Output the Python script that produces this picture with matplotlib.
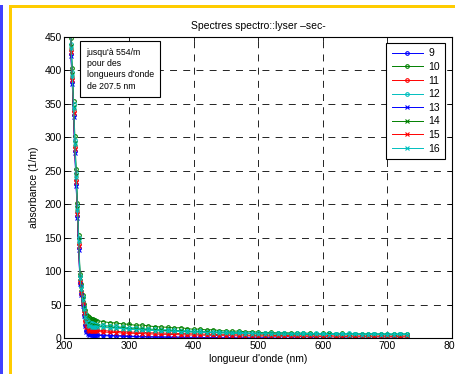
import numpy as np
import matplotlib
matplotlib.use("Agg")
import matplotlib.pyplot as plt
from matplotlib.patches import Rectangle

plt.rcParams['font.family'] = ['Liberation Sans', 'DejaVu Sans']
plt.rcParams['lines.scale_dashes'] = False

# wavelengths (nm): dense in the steep UV part, coarser in the tail
wl_head = np.arange(200, 250, 2)
wl_tail = np.arange(250, 731, 10)
wavelengths = np.concatenate([wl_head, wl_tail])

labels = ['9', '10', '11', '12', '13', '14', '15', '16']
colors = ['#0000ff', '#008000', '#ff0000', '#00bfbf',
          '#0000ff', '#008000', '#ff0000', '#00bfbf']
markers = ['o', 'o', 'o', 'o', 'x', 'x', 'x', 'x']

head_9 = [490, 512, 527, 534, 517, 424, 382, 334, 280, 230, 182, 135, 82, 66, 50, 35, 20, 11, 7, 6, 5.5, 5.5, 5, 5, 5]
head_10 = [515, 534, 548, 553, 540, 448, 404, 355, 302, 252, 202, 154, 96, 80, 64, 51, 42, 36, 33, 31, 30, 29, 28, 27, 27]
head_11 = [495, 518, 533, 540, 523, 430, 388, 340, 286, 236, 188, 141, 86, 70, 54, 40, 26, 18, 14, 13, 12.5, 12.5, 12, 12, 12]
head_12 = [505, 526, 541, 548, 532, 440, 398, 350, 296, 246, 197, 150, 93, 77, 61, 47, 36, 29, 25, 23, 22, 22, 21, 21, 20]
head_13 = [488, 510, 525, 532, 515, 421, 379, 331, 277, 227, 179, 132, 80, 64, 48, 33, 18, 9, 6, 5, 4.5, 4.5, 4, 4, 4]
head_14 = [500, 522, 538, 545, 528, 436, 394, 346, 292, 243, 194, 147, 90, 74, 58, 45, 33, 26, 22, 20, 19, 19, 18, 18, 18]
head_15 = [492, 515, 530, 537, 520, 427, 385, 337, 283, 233, 185, 138, 84, 68, 52, 38, 24, 16, 12, 11, 10.5, 10.5, 10, 10, 10]
head_16 = [498, 520, 536, 543, 526, 434, 392, 344, 290, 240, 192, 145, 89, 73, 57, 43, 31, 24, 20, 18, 17.5, 17, 17, 17, 17]

tail_9 = [5, 4.5, 4, 3.5, 3.5, 3, 2.5, 2.5, 2, 2, 2, 1.5, 1.5, 1.5, 1, 1, 1, 0.5, 1, 0.5, 0.5, 0.5, 0, 0.5, 0,
          0, 0.5, 0, 0, -0.5, 0, 0, -0.5, 0, 0, -0.5, 0, -0.5, 0, 0, -0.5, 0, -0.5, -0.5, 0, -0.5, 0, -0.5, -0.5]
tail_10 = [26, 24.5, 23, 22.5, 21, 20.5, 19, 19.5, 18, 17, 16.5, 16, 15, 15.5, 14, 13, 13.5, 12, 12.5, 11, 10.5, 10, 10.5, 9, 9.5,
           8.5, 8, 8.5, 7.5, 8, 7.5, 7, 7.5, 7, 6.5, 7, 7, 6.5, 7, 6.5, 6, 6.5, 6, 6.5, 6, 6, 5.5, 6, 6]
tail_11 = [12, 11, 10.5, 10, 9.5, 9, 8.5, 8.5, 8, 7.5, 7.5, 7, 7, 6.5, 6.5, 6, 6, 5.5, 5.5, 5, 5, 4.5, 5, 4.5, 4,
           4, 4.5, 4, 3.5, 4, 3.5, 3.5, 3, 3.5, 3, 3, 3.5, 3, 3, 2.5, 3, 3, 2.5, 3, 2.5, 3, 2.5, 2.5, 3]
tail_12 = [20, 19, 18, 17.5, 16, 15, 15.5, 14, 13.5, 13, 12, 12.5, 11.5, 11, 11, 10, 10.5, 9.5, 9, 9.5, 8.5, 8, 8.5, 8, 7.5,
           7, 7.5, 7, 7, 7.5, 6.5, 7, 7, 6.5, 7, 6.5, 7, 6.5, 6.5, 7, 6.5, 6, 6.5, 6.5, 6, 6.5, 6, 6.5, 6]
tail_13 = [4, 3.5, 3, 3, 2.5, 2, 2, 1.5, 1.5, 1, 1, 1, 0.5, 0.5, 0.5, 0, 0.5, 0, 0, 0, -0.5, 0, -0.5, 0, -0.5,
           -0.5, 0, -0.5, -0.5, -1, -0.5, -0.5, -1, -0.5, -0.5, -1, -0.5, -1, -0.5, -0.5, -1, -0.5, -1, -1, -0.5, -1, -0.5, -1, -1]
tail_14 = [18, 17, 16, 15.5, 15, 14, 13.5, 13, 12, 12, 11.5, 11, 10.5, 10, 9.5, 9, 9, 8.5, 8, 8, 7.5, 7, 7, 6.5, 6.5,
           6, 6, 6.5, 5.5, 6, 5.5, 5.5, 5, 5.5, 5, 5, 5.5, 5, 5, 4.5, 5, 5, 4.5, 5, 4.5, 5, 4.5, 4.5, 5]
tail_15 = [10, 9, 8.5, 8, 7.5, 7, 7, 6.5, 6, 6, 5.5, 5.5, 5, 5, 4.5, 4.5, 4.5, 4, 4, 3.5, 3.5, 3.5, 3, 3, 3,
           2.5, 3, 2.5, 2.5, 2.5, 2, 2.5, 2, 2, 2.5, 2, 2, 1.5, 2, 2, 1.5, 2, 1.5, 2, 1.5, 1.5, 2, 1.5, 1.5]
tail_16 = [17, 16, 15, 14.5, 14, 13, 12.5, 12, 11.5, 11, 10.5, 10, 10, 9.5, 9, 9, 8.5, 8, 8, 7.5, 7.5, 7, 7, 6.5, 6.5,
           6, 6.5, 6, 6, 5.5, 6, 5.5, 5.5, 6, 5.5, 5.5, 5, 5.5, 5.5, 5, 5.5, 5, 5, 5.5, 5, 5, 5, 5.5, 5]

heads = [head_9, head_10, head_11, head_12, head_13, head_14, head_15, head_16]
tails = [tail_9, tail_10, tail_11, tail_12, tail_13, tail_14, tail_15, tail_16]

title = 'Spectres spectro::lyser \u2013sec-'
xlabel = "longueur d'onde (nm)"
ylabel = 'absorbance (1/m)'
note = "jusqu'\u00e0 554/m\npour des\nlongueurs d'onde\nde 207.5 nm"

W, H = 456, 374
fig = plt.figure(figsize=(W / 100, H / 100), dpi=100)
fig.patch.set_facecolor('white')

# decorative frame stripes
fig.patches.append(Rectangle((0 / W, 0), 3.3 / W, 1 - 5 / H, transform=fig.transFigure,
                             facecolor='#4040ff', edgecolor='none', zorder=0))
fig.patches.append(Rectangle((9 / W, 0), 3.3 / W, 1 - 5 / H, transform=fig.transFigure,
                             facecolor='#ffcc00', edgecolor='none', zorder=0))
fig.patches.append(Rectangle((9 / W, 1 - 8.3 / H), 1 - 9 / W, 3.3 / H, transform=fig.transFigure,
                             facecolor='#ffcc00', edgecolor='none', zorder=0))

ax = fig.add_axes([64.5 / W, 1 - 338 / H, (452 - 64.5) / W, (338 - 37) / H])

for lab, col, mk, hd, tl in zip(labels, colors, markers, heads, tails):
    y = np.concatenate([hd, tl])
    ax.plot(wavelengths, y, color=col, marker=mk, markersize=2.6,
            markeredgewidth=0.8, markerfacecolor='none' if mk == 'o' else col,
            linewidth=0.7, label=lab)

ax.set_xlim(200, 800)
ax.set_ylim(0, 450)
ax.set_xticks(np.arange(200, 801, 100))
ax.set_yticks(np.arange(0, 451, 50))
ax.grid(True, color='black', linestyle=(0, (5, 4.5)), linewidth=0.6)
ax.tick_params(direction='in', length=3, width=0.6, labelsize=7.5, top=True, right=True, pad=2)
for sp in ax.spines.values():
    sp.set_linewidth(0.8)

ax.set_title(title, fontsize=7.5, pad=6)
ax.set_xlabel(xlabel, fontsize=7.5, labelpad=2)
ax.set_ylabel(ylabel, fontsize=7.5, labelpad=4)

ax.text(0.057, 0.965, note, transform=ax.transAxes, fontsize=6.3, va='top', ha='left',
        linespacing=1.35,
        bbox=dict(boxstyle='square,pad=0.75', facecolor='white', edgecolor='black', linewidth=0.8),
        zorder=5)

leg = ax.legend(loc='upper right', bbox_to_anchor=(0.982, 0.98), fontsize=7.5, fancybox=False,
                framealpha=1, edgecolor='black', handlelength=3.0, handletextpad=0.5,
                labelspacing=0.35, borderpad=0.5, borderaxespad=0)
leg.get_frame().set_linewidth(0.8)

fig.savefig('out.png', dpi=100)
